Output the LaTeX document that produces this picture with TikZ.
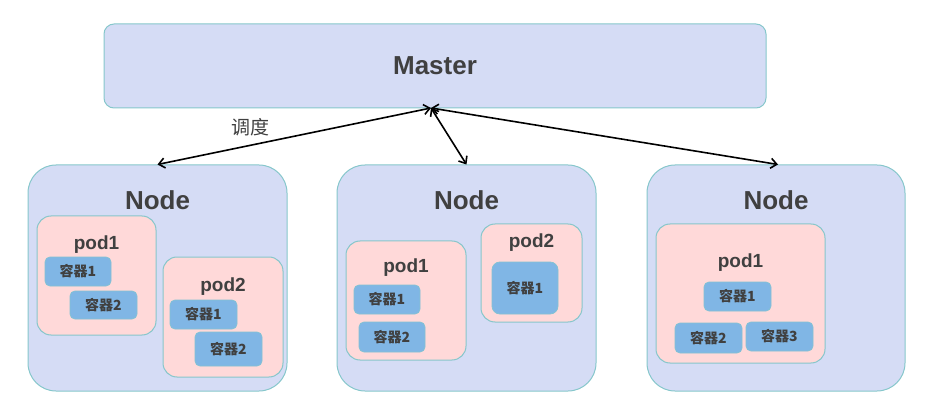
\documentclass[tikz,border=0pt]{standalone}
\usepackage{fontspec}
\setmainfont{Liberation Sans}
\newfontfamily\cjk{Noto Sans CJK SC}
\usepackage{tikz}
\usetikzlibrary{arrows.meta}

\definecolor{nodefill}{HTML}{D5DCF5}
\definecolor{edgeteal}{HTML}{86C7CB}
\definecolor{podfill}{HTML}{FFD9D9}
\definecolor{boxblue}{HTML}{80B6E5}
\definecolor{textgray}{HTML}{404040}

\begin{document}
\begin{tikzpicture}[x=1pt, y=-1pt,
  host/.style={draw=edgeteal, line width=1pt, fill=nodefill, rounded corners=28pt},
  pod/.style={draw=edgeteal, line width=1pt, fill=podfill, rounded corners=14pt},
  ctr/.style={draw=edgeteal!70!boxblue, line width=0.8pt, fill=boxblue, rounded corners=5pt,
    text=textgray, font=\cjk\bfseries\fontsize{14}{16}\selectfont},
  title/.style={text=textgray, font=\bfseries\fontsize{26}{30}\selectfont},
  podname/.style={text=textgray, font=\bfseries\fontsize{19}{22}\selectfont},
  link/.style={{Straight Barb[length=6pt,width=10pt]}-{Straight Barb[length=6pt,width=10pt]}, line width=1.6pt}]
\useasboundingbox (0,0) rectangle (938,401);

% master
\node[host, rounded corners=10pt, minimum width=662pt, minimum height=84pt] (master) at (435,66) {};
\node[title] (mastername) at (435,66) {Master};
\coordinate (m) at (431,108);

% three worker nodes
\node[host, minimum width=259pt, minimum height=226pt] (n1) at (157.5,278) {};
\node[host, minimum width=259pt, minimum height=226pt] (n2) at (466.5,278) {};
\node[host, minimum width=258pt, minimum height=226pt] (n3) at (776,278) {};
\node[title] (n1name) at (157.5,200) {Node};
\node[title] (n2name) at (466.5,200) {Node};
\node[title] (n3name) at (776,200) {Node};

% pods of node 1
\node[pod, minimum width=119pt, minimum height=119pt] (p11) at (96.5,275.5) {};
\node[podname] (p11name) at (96.5,245) {pod1};
\node[ctr, minimum width=66pt, minimum height=29pt] (c111) at (78,271.5) {容器1};
\node[ctr, minimum width=67pt, minimum height=28pt] (c112) at (103.5,305) {容器2};
\node[pod, minimum width=120pt, minimum height=120pt] (p12) at (223,317) {};
\node[podname] (p12name) at (223,287) {pod2};
\node[ctr, minimum width=67pt, minimum height=29pt] (c121) at (203.5,314.5) {容器1};
\node[ctr, minimum width=67pt, minimum height=34pt] (c122) at (228.5,349) {容器2};

% pods of node 2
\node[pod, minimum width=120pt, minimum height=119pt] (p21) at (406,300.5) {};
\node[podname] (p21name) at (406,268) {pod1};
\node[ctr, minimum width=66pt, minimum height=29pt] (c211) at (387,299.5) {容器1};
\node[ctr, minimum width=66pt, minimum height=30pt] (c212) at (392,337) {容器2};
\node[pod, minimum width=101pt, minimum height=98pt] (p22) at (531.5,273) {};
\node[podname] (p22name) at (531.5,243) {pod2};
\node[ctr, rounded corners=8pt, minimum width=66pt, minimum height=52pt] (c221) at (525,288) {容器1};

% pod of node 3
\node[pod, minimum width=169pt, minimum height=139pt] (p31) at (740.5,293.5) {};
\node[podname] (p31name) at (740.5,263) {pod1};
\node[ctr, minimum width=67pt, minimum height=29pt] (c311) at (737.5,296.5) {容器1};
\node[ctr, minimum width=67pt, minimum height=30pt] (c312) at (708.5,338) {容器2};
\node[ctr, minimum width=67pt, minimum height=29pt] (c313) at (779.5,336.5) {容器3};

% scheduling arrows
\draw[link] (m) -- node[pos=0.66, above, yshift=5pt, text=textgray, font=\cjk\fontsize{19}{22}\selectfont] (sched) {调度} (n1.north);
\draw[link] (m) -- (n2.north);
\draw[link] (m) -- ([xshift=2pt]n3.north);
\end{tikzpicture}
\end{document}
